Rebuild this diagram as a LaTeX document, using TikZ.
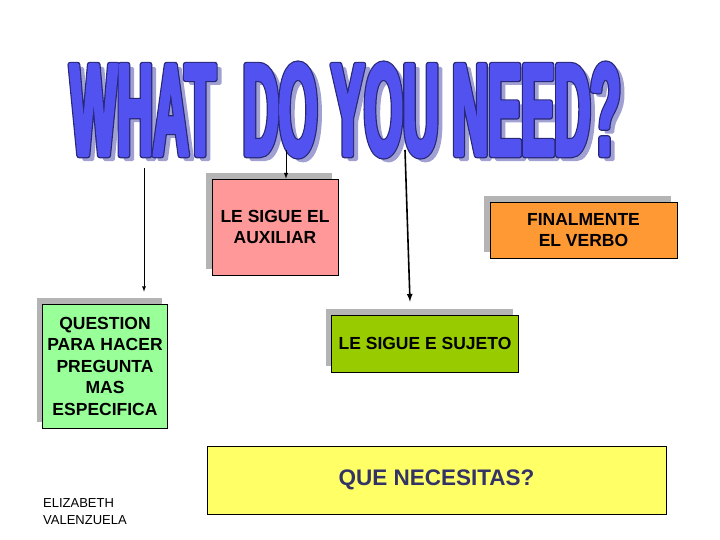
\documentclass[tikz,border=0pt]{standalone}
\usepackage{fontspec}
\setmainfont{Liberation Sans}
\newfontfamily\titlefont{Liberation Sans Bold}[FakeStretch=0.376,FakeBold=2.5]
\newfontfamily\titleedgefont{Liberation Sans Bold}[FakeStretch=0.376,FakeBold=4.3]
\usetikzlibrary{shadows}

\definecolor{titleblue}{RGB}{82,82,240}
\definecolor{titleedge}{RGB}{40,40,120}
\definecolor{titleshade}{RGB}{160,160,210}
\definecolor{boxshadow}{RGB}{180,180,180}
\definecolor{auxpink}{RGB}{255,153,153}
\definecolor{verboorange}{RGB}{255,153,51}
\definecolor{sujetogreen}{RGB}{153,204,0}
\definecolor{questiongreen}{RGB}{153,255,153}
\definecolor{necyellow}{RGB}{255,255,102}
\definecolor{necnavy}{RGB}{51,51,102}

\newcommand{\titlewords}{WHAT\ \ DO YOU NEED?}

\begin{document}
\begin{tikzpicture}[x=1pt,y=-1pt,
    titletext/.style={inner sep=0,line join=round,font=\titlefont\fontsize{132}{132}\selectfont},
    shadowbox/.style={draw=black,line width=0.75pt,align=center,inner sep=1pt,
      font=\fontsize{17.5}{21.5}\selectfont\bfseries,
      drop shadow={shadow xshift=-6pt,shadow yshift=6pt,fill=boxshadow,opacity=1}},
    arrowline/.style={-latex,draw=black,line width=1pt}]
			\useasboundingbox (0,0) rectangle (720,540);
			% Title
			\node[titletext,text=titleshade] (TitleShadow) at (350.5,114) {\titlewords};
			\node[titletext,text=titleedge,font=\titleedgefont\fontsize{132}{132}\selectfont] (TitleEdge) at (345.5,110) {\titlewords};
			\node[titletext,text=titleblue] (Title) at (345.5,110) {\titlewords};
			
			\node[shadowbox,fill=auxpink,minimum width=126pt,minimum height=96pt] (Auxiliar) at (275,227) {LE SIGUE EL\\AUXILIAR};
			\node[shadowbox,fill=verboorange,minimum width=187pt,minimum height=56pt] (Verbo) at (583.5,230) {FINALMENTE\\EL VERBO};
			\node[shadowbox,fill=sujetogreen,minimum width=187pt,minimum height=57pt] (Sujeto) at (425,343.5) {LE SIGUE E SUJETO};
			\node[shadowbox,fill=questiongreen,minimum width=125pt,minimum height=124pt] (Question) at (105,366) {QUESTION\\PARA HACER\\PREGUNTA\\MAS\\ESPECIFICA};
			\node[draw=black,line width=0.75pt,fill=necyellow,text=necnavy,minimum width=459pt,minimum height=68pt,font=\fontsize{22.5}{27}\selectfont\bfseries] (Necesitas) at (436.5,480) {QUE NECESITAS?};
			\node[anchor=west,align=left,inner sep=0,font=\fontsize{13}{17}\selectfont] (Autor) at (43,511.5) {ELIZABETH\\VALENZUELA};
			
			\coordinate (QStart) at (144,168);
			\coordinate (AuxStart) at (286,150);
			\coordinate (SujStart) at (405,150);
			\draw[arrowline,line width=0.8pt,shorten >=12pt] (QStart) -- (QStart |- Question.north);
			\draw[arrowline] (AuxStart) -- (AuxStart |- Auxiliar.north);
			\draw[arrowline,line width=1.6pt] (SujStart) -- ([xshift=-15pt,yshift=13pt]Sujeto.north);
			
\end{tikzpicture}
\end{document}
